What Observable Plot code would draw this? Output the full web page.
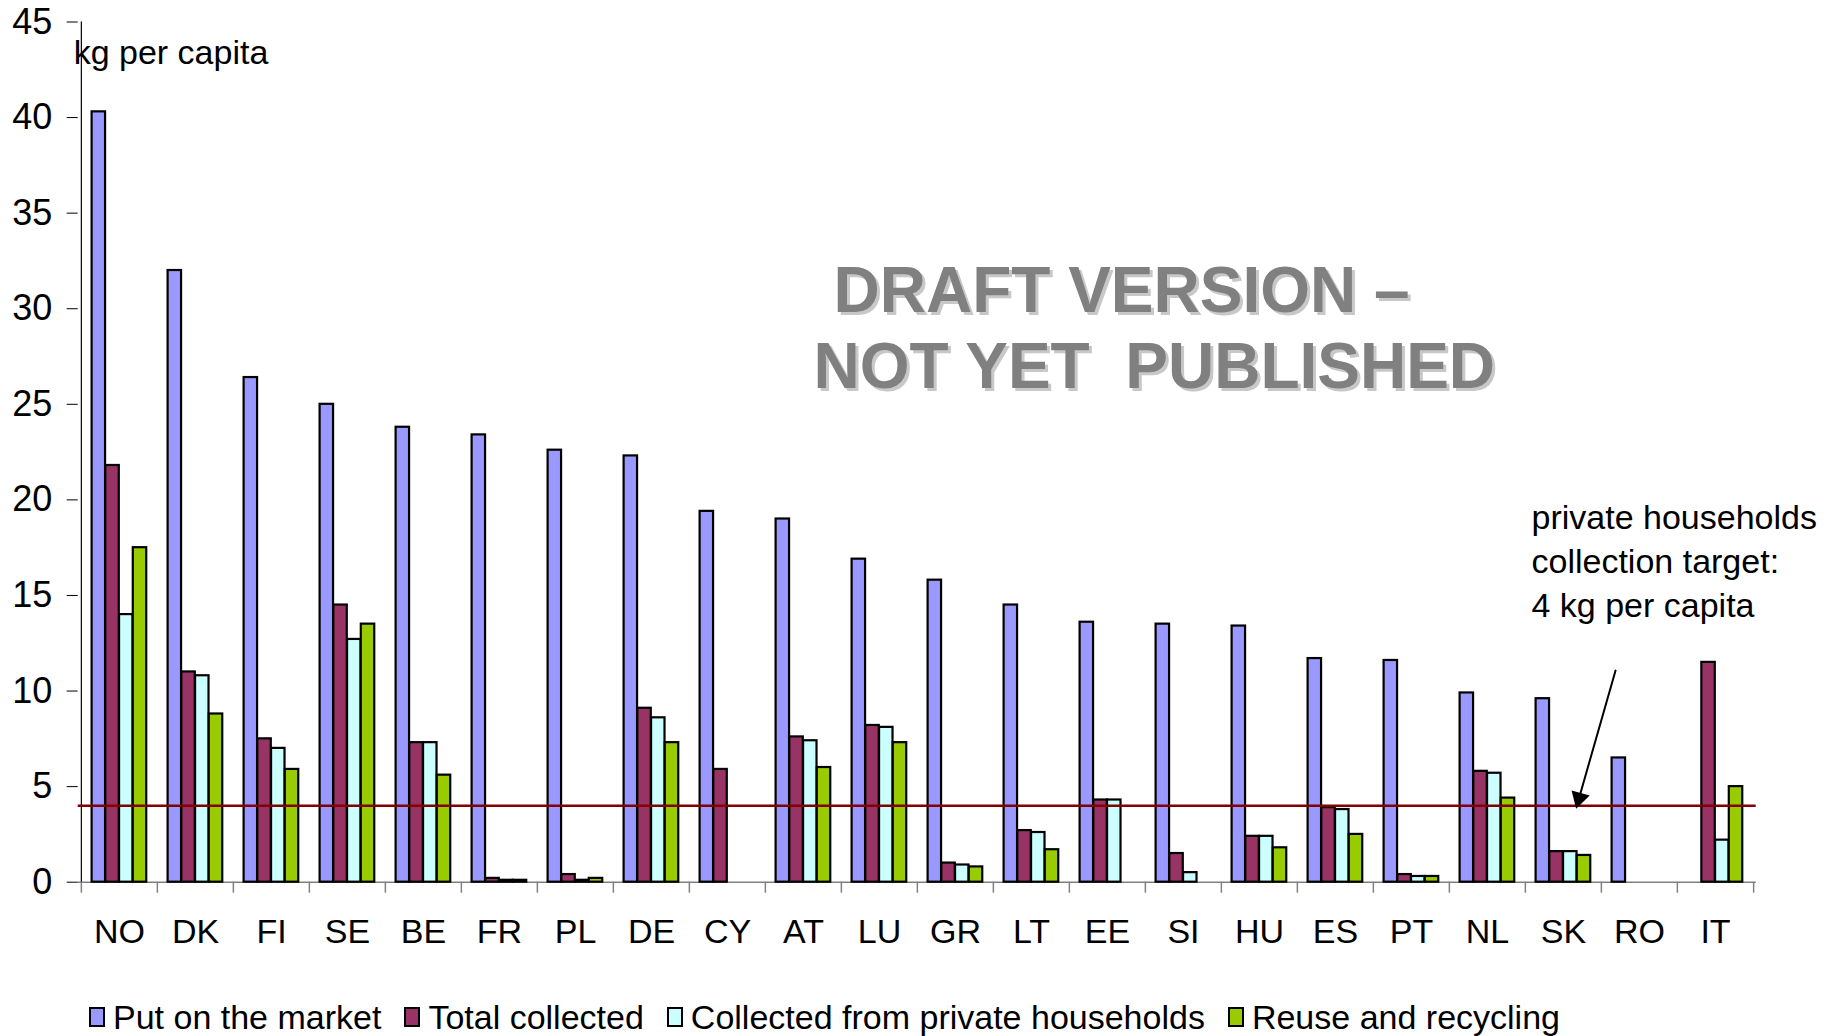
<!DOCTYPE html>
<html>
<head>
<meta charset="utf-8">
<script src="https://cdn.jsdelivr.net/npm/d3@7"></script>
<script src="https://cdn.jsdelivr.net/npm/@observablehq/plot@0.6"></script>
<style>
  html, body { margin: 0; padding: 0; background: #fff; }
  body { width: 1833px; height: 1036px; overflow: hidden; font-family: "Liberation Sans", Arial, sans-serif; }
  #chart svg { display: block; }
  .wm text { white-space: pre; }
  #legend { display: flex; align-items: center; margin-left: 89px; margin-top: 37px; font-size: 34px; line-height: 40px; color: #000; }
  #legend .item { display: flex; align-items: center; margin-right: 23px; white-space: nowrap; }
  #legend .sw { display: inline-block; width: 16px; height: 20px; border: 2px solid #000; margin-right: 8px; box-sizing: border-box; }
</style>
</head>
<body>
<div id="chart"></div>
<div id="legend"></div>
<script>
// ---- data ----
const countries = ["NO","DK","FI","SE","BE","FR","PL","DE","CY","AT","LU","GR","LT","EE","SI","HU","ES","PT","NL","SK","RO","IT"];
const seriesNames = ["Put on the market","Total collected","Collected from private households","Reuse and recycling"];
const seriesColors = ["#9999FF","#993366","#CCFFFF","#99CC00"];
const putOnMarket    = [40.3, 32.0, 26.4, 25.0, 23.8, 23.4, 22.6, 22.3, 19.4, 19.0, 16.9, 15.8, 14.5, 13.6, 13.5, 13.4, 11.7, 11.6, 9.9, 9.6, 6.5, null];
const totalCollected = [21.8, 11.0, 7.5, 14.5, 7.3, 0.2, 0.4, 9.1, 5.9, 7.6, 8.2, 1.0, 2.7, 4.3, 1.5, 2.4, 3.9, 0.4, 5.8, 1.6, null, 11.5];
const privateHouseholds = [14.0, 10.8, 7.0, 12.7, 7.3, 0.1, 0.1, 8.6, null, 7.4, 8.1, 0.9, 2.6, 4.3, 0.5, 2.4, 3.8, 0.3, 5.7, 1.6, null, 2.2];
const reuseRecycling = [17.5, 8.8, 5.9, 13.5, 5.6, 0.1, 0.2, 7.3, null, 6.0, 7.3, 0.8, 1.7, null, null, 1.8, 2.5, 0.3, 4.4, 1.4, null, 5.0];
const target = 4;
const yTicks = [0, 5, 10, 15, 20, 25, 30, 35, 40, 45];
const yLabel = "kg per capita";
const targetNote = "private households\ncollection target:\n4 kg per capita";
const watermark1 = "DRAFT VERSION \u2013";
const watermark2 = "NOT YET  PUBLISHED";

const seriesValues = [putOnMarket, totalCollected, privateHouseholds, reuseRecycling];

// ---- layout ----
const W = 1833, H = 960, ML = 77.7, MR = 77.3, MT = 21.5, MB = 78.3;
const step = (W - ML - MR) / countries.length;
const groupStart = 0.139, barFrac = 0.18;

const rows = countries.map((c, i) => ({country: c, v: seriesValues.map(s => s[i])}));

const barMarks = seriesValues.map((s, k) => Plot.barY(rows, {
  x: "country",
  y: d => d.v[k],
  fill: seriesColors[k],
  stroke: "#000",
  strokeWidth: 2.2,
  insetLeft: step * (groupStart + barFrac * k),
  insetRight: step * (1 - groupStart - barFrac * (k + 1))
}));

const lastCountry = countries[countries.length - 1];

// arrow geometry (fractions of a band)
const arrowStartShift = -0.315, arrowEndShift = 0.176;
const arrowAngle = 196; // degrees, direction of the arrow head

const wmOpts = {textAnchor: "start", fontWeight: "bold", fontSize: 64, className: "wm"};

const plot = Plot.plot({
  width: W, height: H,
  marginLeft: ML, marginRight: MR, marginTop: MT, marginBottom: MB,
  style: {fontSize: "34px", fontFamily: "'Liberation Sans', Arial, sans-serif", color: "#000", background: "#fff"},
  x: {domain: countries, padding: 0, axis: null},
  y: {domain: [0, 45], axis: null, label: null},
  marks: [
    // watermark with shadow
    Plot.text([watermark1], {...wmOpts, x: () => "LU", y: () => 30.9, text: d => d, dx: -46 + 3, dy: 3, fill: "#c8c8c8"}),
    Plot.text([watermark2], {...wmOpts, x: () => "LU", y: () => 26.9, text: d => d, dx: -66 + 3, dy: 3, fill: "#c8c8c8"}),
    Plot.text([watermark1], {...wmOpts, x: () => "LU", y: () => 30.9, text: d => d, dx: -46, fill: "#808080"}),
    Plot.text([watermark2], {...wmOpts, x: () => "LU", y: () => 26.9, text: d => d, dx: -66, fill: "#808080"}),
    // x axis line and boundary ticks
    Plot.ruleY([0], {stroke: "#808080", strokeWidth: 1.5}),
    Plot.ruleX(countries, {x: d => d, y1: 0, y2: 0, insetBottom: -11, dx: -step / 2, stroke: "#808080", strokeWidth: 1.5}),
    Plot.ruleX([lastCountry], {x: d => d, y1: 0, y2: 0, insetBottom: -11, dx: step / 2, stroke: "#808080", strokeWidth: 1.5}),
    // y axis line + ticks
    Plot.ruleX([countries[0]], {x: d => d, y1: 0, y2: 45, dx: -step / 2, stroke: "#000", strokeWidth: 1.2}),
    Plot.axisY({ticks: yTicks, tickSize: 11, tickPadding: 15, label: null, stroke: "#000", fontSize: 36}),
    Plot.axisX({tickSize: 0, tickPadding: 37, label: null, fontSize: 34}),
    ...barMarks,
    // target line
    Plot.ruleY([target], {stroke: "#800000", strokeWidth: 2.5}),
    // arrow annotation (line + filled head)
    Plot.arrow([0], {
      x1: () => "RO", y1: () => 11.07, x2: () => "SK", y2: () => target,
      stroke: "#000", strokeWidth: 2, headLength: 0, insetEnd: 6,
      render(index, scales, values, dimensions, context, next) {
        const bw = scales.x.bandwidth ? scales.x.bandwidth() : step;
        const v = {...values,
          x1: Array.from(values.x1, x => x + arrowStartShift * bw),
          x2: Array.from(values.x2, x => x + arrowEndShift * bw)};
        return next(index, scales, v, dimensions, context);
      }
    }),
    Plot.dot([0], {x: () => "SK", y: () => target, symbol: "triangle", r: 7, fill: "#000", stroke: "none",
      rotate: arrowAngle, dx: arrowEndShift * step + 2.2, dy: -7.5}),
    Plot.text([targetNote], {x: () => "SK", y: () => 16.9, text: d => d, textAnchor: "start", dx: -32, lineHeight: 1.3, fontSize: 34, fill: "#000"}),
    Plot.text([yLabel], {x: () => countries[0], y: () => 43.35, text: d => d, textAnchor: "start", dx: 70 - (ML + step / 2), fontSize: 34, fill: "#000"})
  ]
});
document.getElementById("chart").appendChild(plot);

// legend
const legend = document.getElementById("legend");
seriesNames.forEach((name, k) => {
  const item = document.createElement("span");
  item.className = "item";
  const sw = document.createElement("span");
  sw.className = "sw";
  sw.style.background = seriesColors[k];
  item.appendChild(sw);
  item.appendChild(document.createTextNode(name));
  legend.appendChild(item);
});
</script>
</body>
</html>
